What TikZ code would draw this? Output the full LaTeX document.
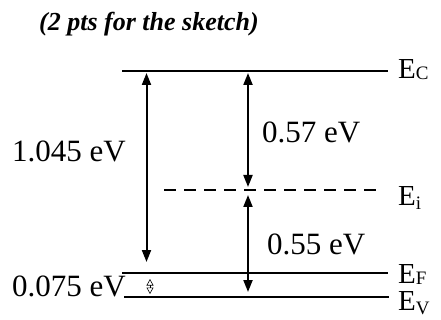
\documentclass[tikz,border=0pt]{standalone}
\usepackage{fontspec}
\setmainfont{Liberation Serif}
\usetikzlibrary{arrows.meta}
\tikzset{
  level/.style={line width=2pt},
  dashlevel/.style={line width=2pt, dash pattern=on 12pt off 8pt},
  gap/.style={line width=2pt, {Triangle[length=12pt,width=9pt]}-{Triangle[length=12pt,width=9pt]}},
  tinygap/.style={line width=0.6pt, {Triangle[open,length=6.5pt,width=7pt]}-{Triangle[open,length=6.5pt,width=7pt]}},
  lab/.style={inner sep=0pt, anchor=base west, font=\fontsize{31}{34}\selectfont},
  elab/.style={inner sep=0pt, anchor=base west, font=\fontsize{29}{32}\selectfont},
  title/.style={inner sep=0pt, anchor=base west, font=\fontsize{26}{29}\selectfont\bfseries\itshape},
}
\newcommand{\sub}[2]{\raisebox{-#1pt}{\fontsize{19}{20}\selectfont #2}}
\begin{document}
\begin{tikzpicture}[x=1pt,y=-1pt]
\useasboundingbox (0,0) rectangle (441,320);
% title
\node[title] (t) at (39,31) {(2 pts for the sketch)};
% levels
\coordinate (ecL) at (122,71);  \coordinate (ecR) at (388,71);
\coordinate (eiL) at (164,190.5); \coordinate (eiR) at (378,190.5);
\coordinate (efL) at (122,273); \coordinate (efR) at (388,273);
\coordinate (evL) at (124,297); \coordinate (evR) at (389,297);
\draw[level] (ecL) -- (ecR);
\draw[dashlevel] (eiL) -- (eiR);
\draw[level] (efL) -- (efR);
\draw[level] (evL) -- (evR);
% arrows
\coordinate (a1t) at (146.5,73); \coordinate (a1b) at (146.5,262);
\coordinate (a2t) at (248,73);   \coordinate (a2b) at (248,187);
\coordinate (a3t) at (248,195);  \coordinate (a3b) at (248,292);
\coordinate (a4t) at (150,279);  \coordinate (a4b) at (150,294);
\draw[gap] (a1t) -- (a1b);
\draw[gap] (a2t) -- (a2b);
\draw[gap] (a3t) -- (a3b);
\draw[tinygap] (a4t) -- (a4b);
% labels
\node[lab] (l1) at (12,162) {1.045 eV};
\node[lab] (l2) at (262,143) {0.57 eV};
\node[lab] (l3) at (267,254) {0.55 eV};
\node[lab] (l4) at (12,296) {0.075 eV};
\node[elab] (ec) at (398,79) {E\sub{1}{C}};
\node[elab] (ei) at (398,206) {E\sub{4}{i}};
\node[elab] (ef) at (398,283) {E\sub{1}{F}};
\node[elab] (ev) at (398,310) {E\sub{4}{V}};
\end{tikzpicture}
\end{document}
